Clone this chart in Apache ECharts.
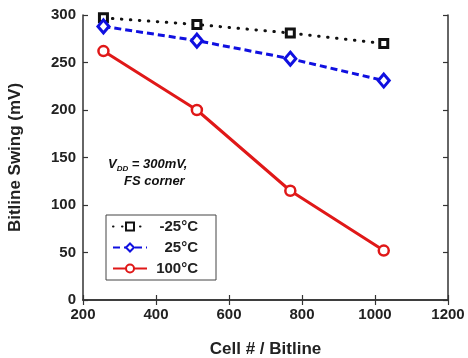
<!DOCTYPE html>
<html><head><meta charset="utf-8">
<script src="https://cdn.jsdelivr.net/npm/echarts@6/dist/echarts.min.js"></script>
<style>html,body{margin:0;padding:0;background:#fff}#c{width:468px;height:358px}</style>
</head><body><div id="c"></div>
<script>
const cells = [256, 512, 768, 1024];
const swingM25 = [297, 290, 281, 270];
const swing25 = [288, 273, 254, 231];
const swing100 = [262, 200, 115, 52];
const seriesNames = ['-25°C', '25°C', '100°C'];
const xTicks = [200, 400, 600, 800, 1000, 1200];
const yTicks = [0, 50, 100, 150, 200, 250, 300];

const pair = (xs, ys) => xs.map((x, i) => [x, ys[i]]);
const font = 'Liberation Sans, Arial, sans-serif';
const chart = echarts.init(document.getElementById('c'));
const hidden = {show:false};
const axLine = {show:true,lineStyle:{color:'#333',width:1.5}};
const tick = {show:true,inside:true,length:5,lineStyle:{color:'#333',width:1.2}};
chart.setOption({
  animation:false,
  grid:{left:83,right:20,top:15,bottom:58,show:false,containLabel:false,outerBoundsMode:'none'},
  xAxis:[{type:'value',min:xTicks[0],max:xTicks[xTicks.length-1],interval:200,
    name:'Cell # / Bitline',nameLocation:'middle',nameGap:41,
    nameTextStyle:{fontFamily:font,fontWeight:'bold',fontSize:17,color:'#222'},
    axisLine:axLine,axisTick:tick,
    axisLabel:{fontFamily:font,fontWeight:'bold',fontSize:15,color:'#222',margin:7,formatter:v=>String(v)},
    splitLine:hidden},
   {type:'value',position:'top',min:200,max:1200,interval:200,
    axisLine:axLine,axisTick:tick,axisLabel:hidden,splitLine:hidden}],
  yAxis:[{type:'value',min:0,max:300,interval:50,
    name:'Bitline Swing (mV)',nameLocation:'middle',nameGap:59,
    nameTextStyle:{fontFamily:font,fontWeight:'bold',fontSize:17,color:'#222'},
    axisLine:axLine,axisTick:tick,
    axisLabel:{fontFamily:font,fontWeight:'bold',fontSize:15,color:'#222',margin:7},
    splitLine:hidden},
   {type:'value',position:'right',min:0,max:300,interval:50,
    axisLine:axLine,axisTick:tick,axisLabel:hidden,splitLine:hidden}],
  legend:{orient:'vertical',left:106,top:215,
    backgroundColor:'#fff',borderColor:'#444',borderWidth:1,borderRadius:0,
    padding:[4,18,4,6],itemGap:6,itemWidth:34,itemHeight:10,
    formatter:n=>'{t|'+n+'}',
    textStyle:{fontFamily:font,fontWeight:'bold',fontSize:15,color:'#222',
      rich:{t:{fontFamily:font,fontWeight:'bold',fontSize:15,color:'#222',width:46,align:'right'}}},
    data:seriesNames},
  series:[
    {name:seriesNames[0],type:'line',data:pair(cells,swingM25),
     symbol:'rect',symbolSize:8,
     lineStyle:{color:'#111',width:3,type:[0.5,8.5],cap:'round'},
     itemStyle:{color:'#fff',borderColor:'#111',borderWidth:3},z:3},
    {name:seriesNames[1],type:'line',data:pair(cells,swing25),
     symbol:'diamond',symbolSize:[11,13],
     lineStyle:{color:'#1010e0',width:3,type:[7,4]},
     itemStyle:{color:'#fff',borderColor:'#1010e0',borderWidth:3},z:3},
    {name:seriesNames[2],type:'line',data:pair(cells,swing100),
     symbol:'circle',symbolSize:10,
     lineStyle:{color:'#e01818',width:3},
     itemStyle:{color:'#fff',borderColor:'#e01818',borderWidth:2.5},z:3}
  ],
  graphic:[
    {type:'text',left:108,top:158,style:{
      text:'{a|V}{s|DD}{a| = 300mV,}\n{b|FS corner}',
      rich:{a:{fontFamily:font,fontWeight:'bold',fontStyle:'italic',fontSize:13,fill:'#111',lineHeight:17},
            b:{fontFamily:font,fontWeight:'bold',fontStyle:'italic',fontSize:13,fill:'#111',lineHeight:17,padding:[0,0,0,16]},
            s:{fontFamily:font,fontWeight:'bold',fontStyle:'italic',fontSize:8,fill:'#111',verticalAlign:'bottom',padding:[7,0,0,0]}},
      align:'left'}}
  ]
});
</script></body></html>
